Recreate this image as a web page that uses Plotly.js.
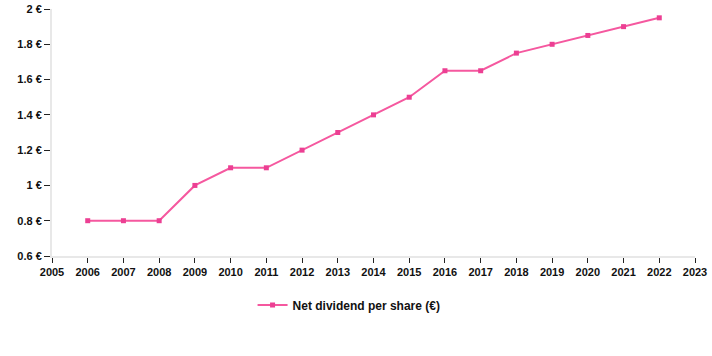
<!DOCTYPE html>
<html><head><meta charset="utf-8">
<script src="https://cdn.plot.ly/plotly-3.0.1.min.js"></script>
<style>html,body{margin:0;padding:0;background:#fff}#c{width:712px;height:356px}</style>
</head><body><div id="c"></div>
<script>
const years = [2006,2007,2008,2009,2010,2011,2012,2013,2014,2015,2016,2017,2018,2019,2020,2021,2022];
const dividend = [0.8,0.8,0.8,1.0,1.1,1.1,1.2,1.3,1.4,1.5,1.65,1.65,1.75,1.8,1.85,1.9,1.95];
const seriesName = 'Net dividend per share (€)';
const yTicks = [0.6,0.8,1,1.2,1.4,1.6,1.8,2];
const xTicks = [2005,2006,2007,2008,2009,2010,2011,2012,2013,2014,2015,2016,2017,2018,2019,2020,2021,2022,2023];

const trace = {
  x: years, y: dividend, name: seriesName, type: 'scatter', mode: 'lines+markers',
  line: {color: '#f5589f', width: 2},
  marker: {color: '#ec3f93', size: 5, symbol: 'square'}
};
const layout = {
  width: 712, height: 356,
  margin: {l: 52, r: 17, t: 9, b: 100},
  paper_bgcolor: '#fff', plot_bgcolor: '#fff',
  font: {family: 'Liberation Sans, Arial, sans-serif', size: 11, color: '#111'},
  showlegend: true,
  legend: {orientation: 'h', x: 0.462, xanchor: 'center', y: -0.14, yanchor: 'top',
           itemwidth: 30,
           font: {family: 'Liberation Sans, Arial, sans-serif', size: 12, color: '#111', weight: 'bold'}},
  xaxis: {range: [2005, 2023], tickvals: xTicks, ticktext: xTicks.map(String),
          showgrid: false, zeroline: false, showline: true, linecolor: '#e8e8e8', linewidth: 2,
          ticks: 'outside', ticklen: 5, tickcolor: '#222', tickwidth: 1,
          tickfont: {size: 11, weight: 'bold', color: '#111'}},
  yaxis: {range: [0.6, 2], tickvals: yTicks, ticktext: yTicks.map(v => String(v) + ' €'),
          showgrid: false, zeroline: false, showline: true, linecolor: '#e8e8e8', linewidth: 2,
          ticks: 'outside', ticklen: 6, tickcolor: '#222', tickwidth: 1,
          tickfont: {size: 11, weight: 'bold', color: '#111'}}
};
Plotly.newPlot('c', [trace], layout, {displayModeBar: false, staticPlot: true});
</script></body></html>
